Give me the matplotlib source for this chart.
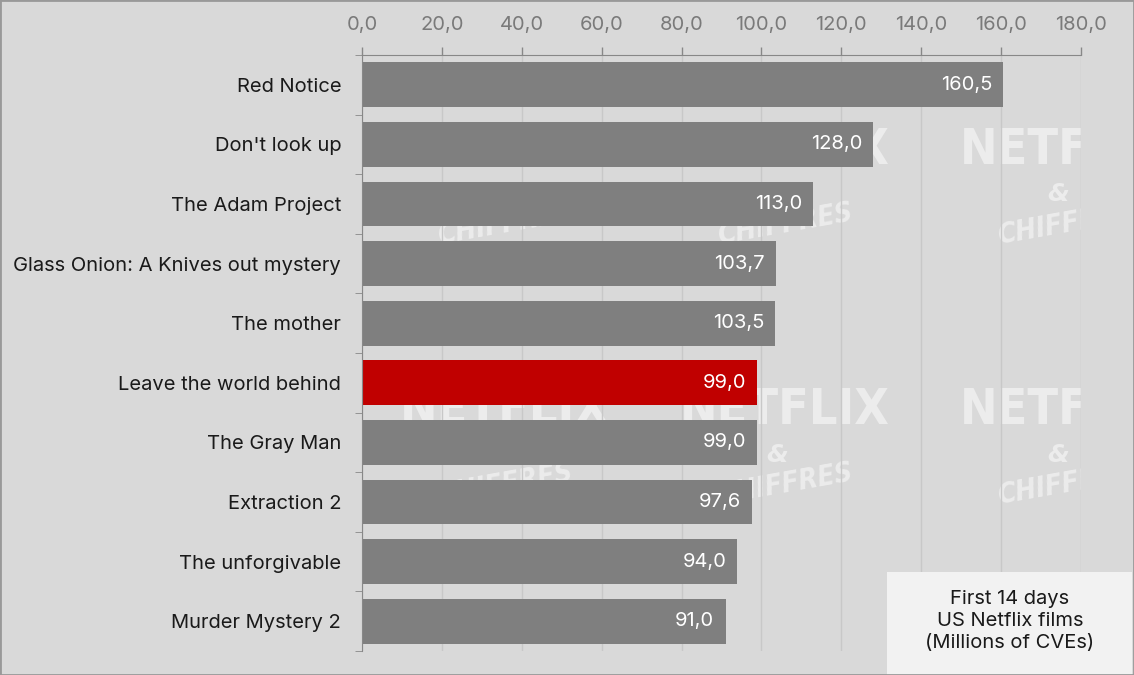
import matplotlib.pyplot as plt
import numpy as np
from matplotlib.ticker import FuncFormatter, FixedLocator

plt.rcParams['font.family'] = ['Inter', 'DejaVu Sans']

titles = ["Red Notice", "Don't look up", "The Adam Project",
          "Glass Onion: A Knives out mystery", "The mother",
          "Leave the world behind", "The Gray Man", "Extraction 2",
          "The unforgivable", "Murder Mystery 2"]
views = [160.5, 128.0, 113.0, 103.7, 103.5, 99.0, 99.0, 97.6, 94.0, 91.0]
highlight = "Leave the world behind"

bg = '#d9d9d9'
fig = plt.figure(figsize=(11.34, 6.75), dpi=100, facecolor=bg)
ax = fig.add_axes([0.3192, 0.0356, 0.9533 - 0.3192, 0.9185 - 0.0356])
ax.set_facecolor(bg)

# watermarks
for wx in [0.199, 0.588, 0.978]:
    for wy in [0.841, 0.404]:
        ax.text(wx, wy, "NETFLIX", transform=ax.transAxes, ha='center', va='center',
                fontsize=36, fontweight='bold', fontstretch='condensed', color='#ececec',
                zorder=0, clip_on=True, family='DejaVu Sans')
        ax.text(wx - 0.01, wy - 0.075, "&", transform=ax.transAxes, ha='center', va='center',
                fontsize=18, fontweight='bold', style='italic', color='#ececec', zorder=0,
                clip_on=True, family='DejaVu Sans')
        ax.text(wx, wy - 0.125, "CHIFFRES", transform=ax.transAxes, ha='center', va='center',
                fontsize=20, fontweight='bold', style='italic', fontstretch='condensed',
                color='#ececec', zorder=0, clip_on=True, rotation=10, family='DejaVu Sans')

y = np.arange(len(titles))
colors = ['#c00000' if t == highlight else '#7f7f7f' for t in titles]
bars = ax.barh(y, views, height=0.75, color=colors, zorder=2)
for yi, v in zip(y, views):
    ax.text(v - 2.8, yi, ("%.1f" % v).replace('.', ','), ha='right', va='center',
            color='white', fontsize=14.5, zorder=3)

ax.set_xlim(0, 180)
ax.set_ylim(len(titles) - 0.5, -0.5)
ax.xaxis.tick_top()
ax.set_xticks(np.arange(0, 181, 20))
ax.xaxis.set_major_formatter(FuncFormatter(lambda v, p: ("%.1f" % v).replace('.', ',')))
ax.tick_params(axis='x', colors='#888888', labelsize=14.5, length=6, width=1, pad=9,
               labelcolor='#7a7a7a')
ax.grid(axis='x', color='#c8c8c8', linewidth=1, zorder=1)
ax.set_axisbelow(True)

ax.set_yticks(y)
ax.set_yticklabels(titles)
ax.tick_params(axis='y', length=0, labelsize=14.5, pad=15, labelcolor='#1a1a1a')
ax.yaxis.set_minor_locator(FixedLocator(np.arange(-0.5, len(titles), 1)))
ax.tick_params(axis='y', which='minor', length=5, color='#888888')

for s in ['right', 'bottom']:
    ax.spines[s].set_visible(False)
ax.spines['top'].set_color('#888888')
ax.spines['left'].set_color('#888888')

# info box
fig.patches.append(plt.Rectangle((887 / 1134, 0), (1132 - 887) / 1134, 103 / 675,
                                 transform=fig.transFigure, facecolor='#f2f2f2',
                                 edgecolor='none', zorder=5))
fig.text(1010 / 1134, 1 - 621 / 675, "First 14 days\nUS Netflix films\n(Millions of CVEs)",
         ha='center', va='center', fontsize=14.5, color='#1a1a1a', linespacing=1.3, zorder=6)

# figure border
fig.patches.append(plt.Rectangle((0, 0), 1, 1, transform=fig.transFigure, fill=False,
                                 edgecolor='#999999', linewidth=2, zorder=10))

fig.savefig('out.png', dpi=100, facecolor=bg)
